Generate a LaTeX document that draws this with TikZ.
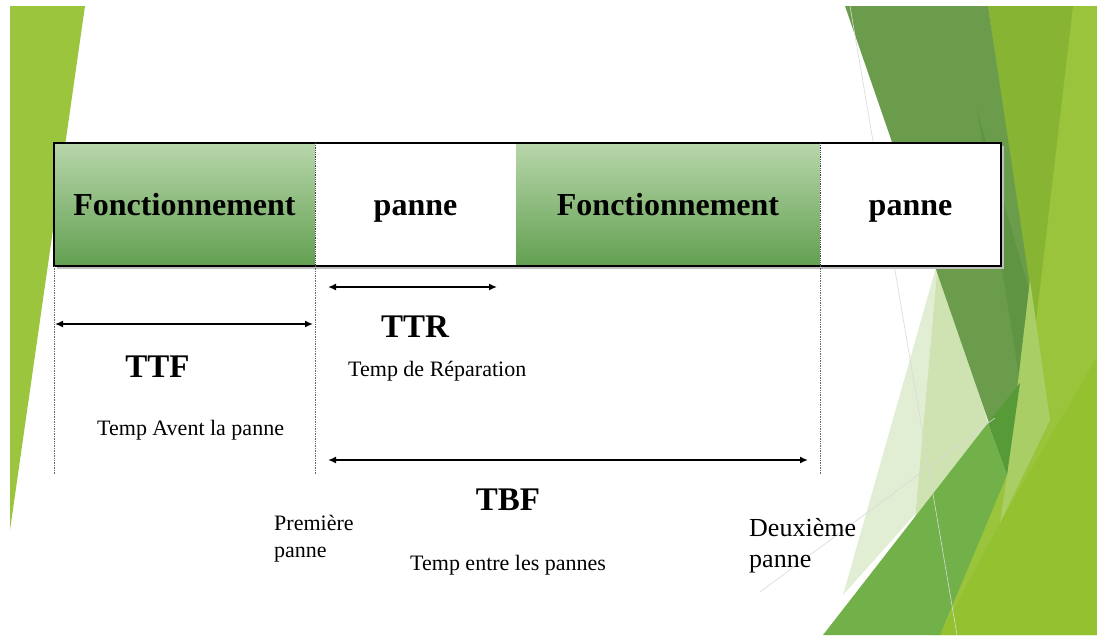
\documentclass[tikz,border=0pt]{standalone}
\usepackage{fontspec}
\setmainfont{Liberation Serif}
\usetikzlibrary{arrows.meta}
\definecolor{leftlime}{HTML}{9BC53D}
\definecolor{brightyg}{HTML}{9AC43C}
\definecolor{lowyg}{HTML}{93C12F}
\definecolor{midyg}{HTML}{87B432}
\definecolor{olive}{HTML}{6B9C4B}
\definecolor{olivedark}{HTML}{5F9442}
\definecolor{palelight}{HTML}{E2EED3}
\definecolor{paledark}{HTML}{CFE3B2}
\definecolor{medgreen}{HTML}{72B04A}
\definecolor{wedge}{HTML}{579A38}
\definecolor{sliver}{HTML}{A9CE66}
\definecolor{bartop}{HTML}{B8D6AB}
\definecolor{barbot}{HTML}{62A050}
\newcommand\segfont{\fontsize{32}{38}\selectfont\bfseries}
\newcommand\abbrfont{\fontsize{33}{40}\selectfont\bfseries}
\newcommand\notefont{\fontsize{22}{28}\selectfont}
\newcommand\eventfont{\fontsize{26}{31}\selectfont}
\begin{document}
\begin{tikzpicture}[x=1pt,y=-1pt,
  seg/.style={rectangle, minimum height=123pt, inner sep=0pt, outer sep=0pt,
    text height=21pt, text depth=0pt, font=\segfont},
  greenseg/.style={top color=bartop, bottom color=barbot},
  divider/.style={densely dotted, line width=0.8pt, black!75},
  drop/.style={densely dotted, line width=0.7pt, black!60},
  arr/.style={line width=1.8pt, {Latex[length=8pt,width=7pt]}-{Latex[length=8pt,width=7pt]}},
  abbr/.style={anchor=base, inner sep=0pt, font=\abbrfont},
  note/.style={inner sep=0pt, font=\notefont},
  thinln/.style={line width=0.6pt, black!15}]
\useasboundingbox (0,0) rectangle (1097,635);
\fill[white] (0,0) rectangle (1097,635);
% left decoration
\fill[leftlime] (10,6) -- (85,6) -- (10,530) -- cycle;
% right decoration
\fill[brightyg] (988,6) -- (1097,6) -- (1097,635) -- (930,635) -- (1007,475) -- (1032,300) -- cycle;
\fill[lowyg] (1097,357) -- (1097,635) -- (940,635) -- (1000,523) -- cycle;
\fill[midyg] (988,6) -- (1073,6) -- (1035,330) -- cycle;
\fill[palelight] (941,250) -- (990,430) -- (843,595) -- cycle;
\fill[paledark] (938,262) -- (990,430) -- (915,520) -- cycle;
\fill[olive] (845,6) -- (988,6) -- (1032,300) -- (1007,475) -- cycle;
\fill[olivedark] (977,110) -- (1032,300) -- (1020,383) -- cycle;
\fill[sliver] (1030,280) -- (1050,420) -- (1000,523) -- (1007,475) -- cycle;
\fill[medgreen] (823,635) -- (988,423) -- (1007,475) -- (940,635) -- cycle;
\fill[wedge] (988,423) -- (1020,383) -- (1007,475) -- cycle;
\draw[thinln] (850,6) -- (957,635);
\draw[thinln] (760,592) -- (995,418);
% bar shadow
\fill[black!25] (57,146) rectangle (1004,269);
% bar segments
\node[seg, greenseg, minimum width=261pt] (s1) at (184.5,204.5) {Fonctionnement};
\node[seg, fill=white, minimum width=201pt] (s2) at (415.5,204.5) {panne};
\node[seg, greenseg, minimum width=304pt] (s3) at (668,204.5) {Fonctionnement};
\node[seg, fill=white, minimum width=181pt] (s4) at (910.5,204.5) {panne};
\draw[line width=1.8pt] (s1.north west) rectangle (s4.south east);
\draw[divider] (s1.north east) -- (s1.south east);
\draw[divider] (s3.north east) -- (s3.south east);
% drop lines
\coordinate (d1) at (54,475);
\coordinate (d2) at (315,475);
\coordinate (d3) at (820,475);
\draw[drop] (s1.south west) -- (d1);
\draw[drop] (s2.south west) -- (d2);
\draw[drop] (s4.south west) -- (d3);
% arrows
\coordinate (ttfA) at (55,324);
\coordinate (ttfB) at (313,324);
\coordinate (ttrA) at (328,287);
\coordinate (ttrB) at (497,287);
\coordinate (tbfA) at (328,460);
\coordinate (tbfB) at (808,460);
\draw[arr] (ttfA) -- (ttfB);
\draw[arr] (ttrA) -- (ttrB);
\draw[arr] (tbfA) -- (tbfB);
% labels
\node[abbr] (ttr) at (415,337) {TTR};
\node[abbr] (ttf) at (157.5,377) {TTF};
\node[abbr] (tbf) at (508,510) {TBF};
\node[note, anchor=base west] (ttrn) at (348,376) {Temp de Réparation};
\node[note, anchor=base west] (ttfn) at (97,435) {Temp Avent la panne};
\node[note, anchor=base west] (tbfn) at (410,570) {Temp entre les pannes};
\node[note, anchor=north west, align=left, font=\fontsize{22}{27}\selectfont] (first) at (274,515) {Première\\panne};
\node[note, anchor=north west, align=left, font=\eventfont] (second) at (749,518) {Deuxième\\panne};
\end{tikzpicture}
\end{document}
